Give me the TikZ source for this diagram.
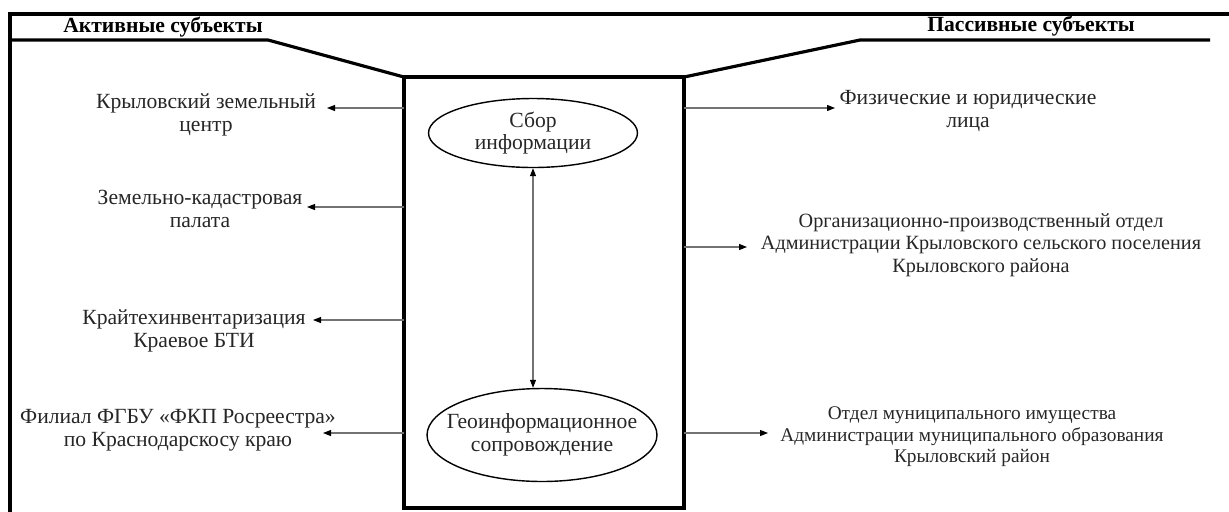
\documentclass[tikz,border=0pt]{standalone}
\usepackage{fontspec}
\setmainfont{Liberation Serif}
\usetikzlibrary{shapes.geometric,arrows.meta,positioning}

\begin{document}
\begin{tikzpicture}[
  x=0.02cm, y=-0.02cm,
  font=\fontsize{12.3}{13}\selectfont,
  >={Triangle[length=1.6mm,width=1.2mm,color=black]},
  frame/.style={line width=1.8pt,black},
  core/.style={draw,line width=2pt,outer sep=0pt,inner sep=0pt,
               minimum width=5.6cm,minimum height=8.62cm},
  task/.style={draw,ellipse,line width=0.8pt,align=center,text=black!85,
               inner xsep=-0.3cm,inner ysep=0pt},
  subj/.style={align=center,text=black!85,inner sep=0pt},
  head/.style={font=\fontsize{12.3}{13}\selectfont\bfseries,inner sep=0pt},
  link/.style={->,black!55,line width=0.6pt},
]
  \useasboundingbox (0,0) rectangle (1229,511);

  % central block with the two tasks
  \node[core] (box) at (544,292.5) {};
  \node[task,minimum width=4.18cm,minimum height=1.38cm] (sbor) at (533,133) {Сбор\\информации};
  \node[task,minimum width=4.6cm,minimum height=1.86cm] (geo) at (542,435) {Геоинформационное\\сопровождение};
  \draw[link,<->] (sbor.south) -- (sbor.south |- geo.north);

  % frame and headings
  \draw[frame] (10,515) -- (10,14) -- (1235,14);
  \draw[frame] (10,40) -- (268,40) -- (box.north west);
  \draw[frame] (box.north east) -- (860,40) -- (1210,40);
  \node[head] (act) at (163,27) {Активные субъекты};
  \node[head] (pas) at (1031,26) {Пассивные субъекты};

  % active side
  \node[subj] (kzc) at (206,115) {Крыловский земельный\\центр};
  \node[subj] (kad) at (200,209) {Земельно-кадастровая\\палата};
  \node[subj] (bti) at (194,331) {Крайтехинвентаризация\\Краевое БТИ};
  \node[subj] (fkp) at (178,430) {Филиал ФГБУ «ФКП Росреестра»\\по Краснодарскосу краю};
  \coordinate (kzcTip) at (327,108);
  \coordinate (kadTip) at (307,207);
  \coordinate (btiTip) at (313,320);
  \coordinate (fkpTip) at (323,433);
  \draw[link] (box.west |- kzcTip) -- (kzcTip);
  \draw[link] (box.west |- kadTip) -- (kadTip);
  \draw[link] (box.west |- btiTip) -- (btiTip);
  \draw[link] (box.west |- fkpTip) -- (fkpTip);

  % passive side
  \node[subj] (fiz) at (968,111) {Физические и юридические\\лица};
  \node[subj,font=\fontsize{11.5}{12.8}\selectfont] (org) at (981,245) {Организационно-производственный отдел\\Администрации Крыловского сельского поселения\\Крыловского района};
  \node[subj,font=\fontsize{11}{12.2}\selectfont] (imu) at (972,437) {Отдел муниципального имущества\\Администрации муниципального образования\\Крыловский район};
  \coordinate (fizTip) at (835,108);
  \coordinate (orgTip) at (747,247);
  \coordinate (imuTip) at (768,433);
  \draw[link] (box.east |- fizTip) -- (fizTip);
  \draw[link] (box.east |- orgTip) -- (orgTip);
  \draw[link] (box.east |- imuTip) -- (imuTip);
\end{tikzpicture}
\end{document}
